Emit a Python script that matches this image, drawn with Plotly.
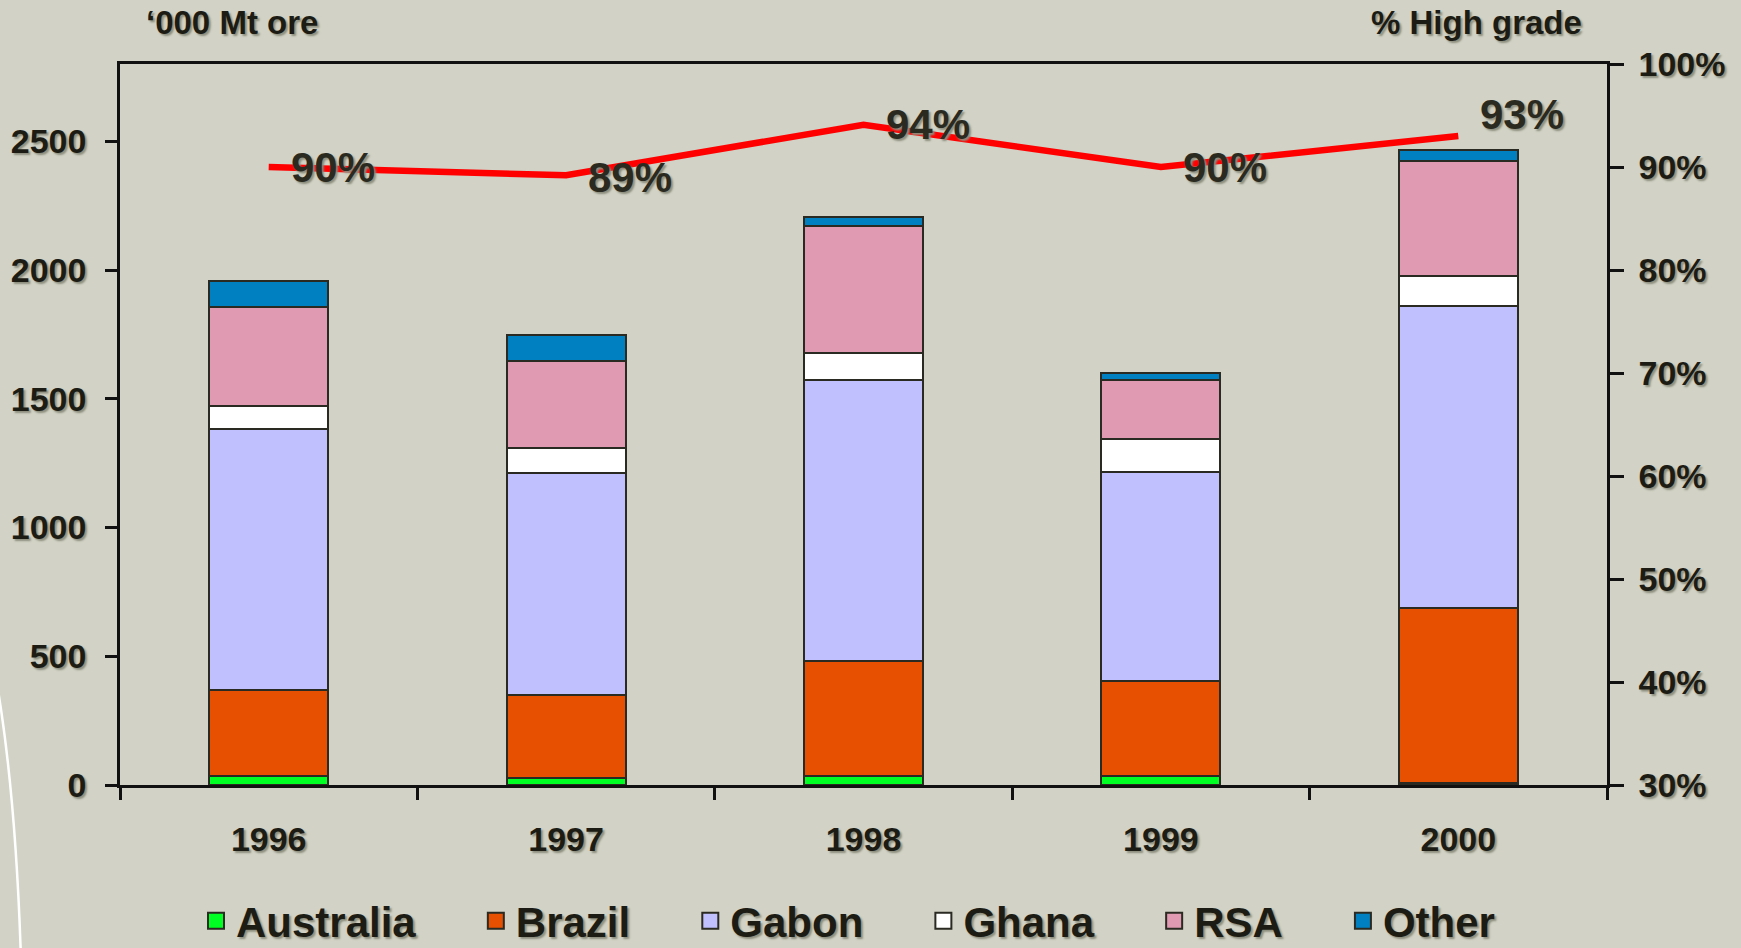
import plotly.graph_objects as go

# ---------------- data ----------------
years = ["1996", "1997", "1998", "1999", "2000"]
australia = [35, 26, 34, 34, 6]
brazil = [333, 324, 446, 369, 680]
gabon = [1016, 862, 1093, 811, 1174]
ghana = [87, 96, 103, 128, 118]
rsa = [384, 340, 494, 231, 444]
other = [102, 98, 35, 26, 43]
high_grade = [90.0, 89.2, 94.1, 90.0, 93.0]
high_grade_labels = ["90%", "89%", "94%", "90%", "93%"]
left_ticks = [0, 500, 1000, 1500, 2000, 2500]
right_ticks = [30, 40, 50, 60, 70, 80, 90, 100]
right_tick_text = ["30%", "40%", "50%", "60%", "70%", "80%", "90%", "100%"]

series = [
    ("Australia", australia, "#00ff22"),
    ("Brazil", brazil, "#e65000"),
    ("Gabon", gabon, "#c0c0ff"),
    ("Ghana", ghana, "#ffffff"),
    ("RSA", rsa, "#e09bb3"),
    ("Other", other, "#0080c0"),
]

# ---------------- style ----------------
W, H = 1741, 948
ML, MR, MT, MB = 120, 134, 64, 163
BG = "#d2d2c6"
DARK = "#1c1c14"
EDGE = "#2a2a22"
SHADOW = "2px 2px 2px #8e8e7e"
FONT = "Liberation Sans, Arial, sans-serif"
label_shift_x = [64, 64, 64, 64, 64]
label_shift_y = [0, -2, 0, 0, 22]
LEGEND_PAD = "\u2009" + "\u00a0" * 4

fig = go.Figure()

for name, vals, col in series:
    fig.add_trace(go.Bar(
        x=years, y=vals, name=name, width=0.4, showlegend=False,
        marker=dict(color=col, line=dict(color=EDGE, width=2)),
        yaxis="y",
    ))

# legend entries (square swatches)
for i, (name, vals, col) in enumerate(series):
    pad = LEGEND_PAD if i < len(series) - 1 else ""
    fig.add_trace(go.Scatter(
        x=[None], y=[None], mode="markers", name=name + pad,
        marker=dict(symbol="square", size=22, color=col, line=dict(color=EDGE, width=2)),
        showlegend=True,
    ))

fig.add_trace(go.Scatter(
    x=years, y=high_grade, mode="lines", yaxis="y2",
    line=dict(color="#ff0000", width=6.5), showlegend=False,
))

for i, (v, t, dx, dy) in enumerate(zip(high_grade, high_grade_labels, label_shift_x, label_shift_y)):
    fig.add_annotation(
        x=i, y=v, xref="x", yref="y2", text=t, showarrow=False,
        xshift=dx, yshift=dy,
        font=dict(family=FONT, size=42, color="#2a2a20", weight="bold", shadow=SHADOW),
    )

pw = W - ML - MR
ph = H - MT - MB


def px_x(p):
    return (p - ML) / pw


def px_y(p):
    return (H - MB - p) / ph


# titles
fig.add_annotation(x=px_x(144), y=px_y(22), xref="paper", yref="paper",
                   text="\u2018000 Mt ore", showarrow=False, xanchor="left", yanchor="middle",
                   font=dict(family=FONT, size=33, color=DARK, weight="bold", shadow=SHADOW))
fig.add_annotation(x=px_x(1584), y=px_y(22), xref="paper", yref="paper",
                   text="% High grade", showarrow=False, xanchor="right", yanchor="middle",
                   font=dict(family=FONT, size=33, color=DARK, weight="bold", shadow=SHADOW))

# decorative white arc at left edge
fig.add_shape(type="path", xref="paper", yref="paper",
              path=f"M {px_x(-2)} {px_y(690)} Q {px_x(16)} {px_y(800)} {px_x(21)} {px_y(960)}",
              line=dict(color="#ffffff", width=2.5), layer="below")

tickfont = dict(family=FONT, size=34, color=DARK, weight="bold", shadow=SHADOW)

fig.update_layout(
    width=W, height=H,
    margin=dict(l=ML, r=MR, t=MT, b=MB, pad=0),
    paper_bgcolor=BG, plot_bgcolor=BG,
    barmode="stack",
    xaxis=dict(
        type="category", range=[-0.5, 4.5], tickson="boundaries",
        showline=True, linecolor="#111111", linewidth=2.5, mirror=True,
        ticks="outside", ticklen=12, tickwidth=2.5, tickcolor="#111111",
        tickfont=tickfont, ticklabelstandoff=22, showgrid=False,
    ),
    yaxis=dict(
        range=[0, 2800], tickvals=left_ticks, showgrid=False, zeroline=False,
        showline=True, linecolor="#111111", linewidth=2.5,
        ticks="outside", ticklen=12, tickwidth=2.5, tickcolor="#111111",
        tickfont=tickfont, ticklabelstandoff=12,
    ),
    yaxis2=dict(
        overlaying="y", side="right", range=[30, 100],
        tickvals=right_ticks, ticktext=right_tick_text,
        showgrid=False, zeroline=False,
        showline=True, linecolor="#111111", linewidth=2.5,
        ticks="outside", ticklen=14, tickwidth=2.5, tickcolor="#111111",
        tickfont=tickfont, ticklabelstandoff=8,
    ),
    legend=dict(
        orientation="h", x=px_x(196), xanchor="left",
        yref="container", y=1 - 921 / H, yanchor="middle",
        font=dict(family=FONT, size=42, color=DARK, weight="bold", shadow=SHADOW),
        traceorder="normal", bgcolor="rgba(0,0,0,0)", itemwidth=30,
    ),
    showlegend=True,
)

fig.write_html("out.html", config={"displayModeBar": False},
               post_script="document.body.style.margin='0';")
